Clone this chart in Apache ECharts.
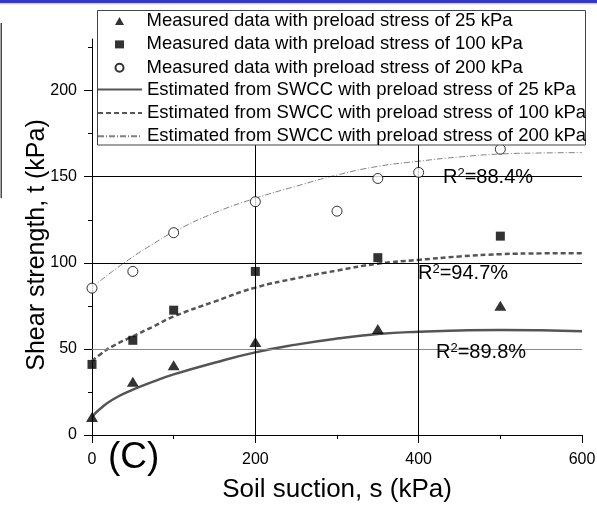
<!DOCTYPE html>
<html>
<head>
<meta charset="utf-8">
<script src="https://cdn.jsdelivr.net/npm/echarts@6/dist/echarts.min.js"></script>
<style>
  html, body { margin: 0; padding: 0; background: #fff; }
  #chart { width: 597px; height: 505px; }
</style>
</head>
<body>
<div id="chart"></div>
<script>
// Measured shear strength (kPa) against soil suction (kPa)
const suction25 = [0, 50, 100, 200, 350, 500];
const tau25 = [10.5, 31, 40.5, 54, 61.5, 75];
const suction100 = [0, 50, 100, 200, 350, 500];
const tau100 = [41, 55, 72.5, 95, 103, 115.5];
const suction200 = [0, 50, 100, 200, 300, 350, 400, 500];
const tau200 = [85.3, 95, 117.5, 135.5, 130, 149, 152.5, 166];

// Curves estimated from the SWCC
const suctionFit = [0, 10, 25, 50, 75, 100, 150, 200, 250, 300, 350, 400, 450, 500, 550, 600];
const fit25 = [10.5, 15.2, 20.5, 26.3, 31, 35.2, 42, 48, 52.5, 56, 58.6, 60, 60.7, 61, 60.8, 60.3];
const fit100 = [43, 46.8, 51.5, 57.3, 63, 68.8, 77.5, 85.6, 91, 95.5, 99.5, 101.7, 103.7, 105, 105.5, 105.6];
const fit200 = [85.3, 89.5, 95, 103.5, 111, 118, 129, 137.5, 144.5, 151, 156, 159, 161.5, 163.2, 163.8, 164];

// Axis ticks and reference lines
const xTicks = [0, 200, 400, 600];
const yTicks = [0, 50, 100, 150, 200];
const yMinorTicks = [25, 75, 125, 175, 225];
const gridY = [50, 100, 150];
const gridX = [200, 400];

const measuredNames = [
  'Measured data with preload stress of 25 kPa',
  'Measured data with preload stress of 100 kPa',
  'Measured data with preload stress of 200 kPa'
];
const estimatedNames = [
  'Estimated from SWCC with preload stress of 25 kPa',
  'Estimated from SWCC with preload stress of 100 kPa',
  'Estimated from SWCC with preload stress of 200 kPa'
];
const fitLabels = ['R{s|2}=88.4%', 'R{s|2}=94.7%', 'R{s|2}=89.8%'];
const panelLabel = '(C)';

const FONT = "'Liberation Sans', Arial, sans-serif";
const zip = (xs, ys) => xs.map((x, i) => [x, ys[i]]);

const chart = echarts.init(document.getElementById('chart'), null, { renderer: 'canvas' });

const rText = (text, x, y) => ({
  type: 'text', left: x, top: y, z: 20,
  style: {
    text: text, fill: '#000', font: '20px ' + FONT,
    rich: { s: { fontSize: 13, fontFamily: FONT, verticalAlign: 'top', lineHeight: 20, fill: '#000' } }
  }
});

const legendText = { fontSize: 18.5, lineHeight: 18.5, color: '#000', fontFamily: FONT };

chart.setOption({
  animation: false,
  backgroundColor: '#fff',
  grid: { left: 92, right: 15, top: 39, bottom: 70, outerBoundsMode: 'none', containLabel: false },
  xAxis: {
    type: 'value', min: 0, max: 600, interval: 200,
    name: 'Soil suction, s (kPa)', nameLocation: 'middle', nameGap: 42,
    nameTextStyle: { fontSize: 26, color: '#000', fontFamily: FONT },
    axisLine: { show: true, onZero: false, lineStyle: { color: '#000', width: 1 } },
    axisTick: { show: true, length: 8, lineStyle: { color: '#000' } },
    minorTick: { show: true, splitNumber: 2, length: 4, lineStyle: { color: '#000' } },
    axisLabel: { customValues: xTicks, margin: 17, fontSize: 16, color: '#000', fontFamily: FONT },
    splitLine: { show: false }
  },
  yAxis: [{
    type: 'value', min: 0, max: 230,
    name: 'Shear strength, t (kPa)', nameLocation: 'middle', nameGap: 42, nameMoveOverlap: false,
    nameTextStyle: { fontSize: 25, color: '#000', fontFamily: FONT, padding: [0, 16, 0, 0] },
    axisLine: { show: true, onZero: false, lineStyle: { color: '#000', width: 1 } },
    axisTick: { show: true, customValues: yTicks, length: 8, lineStyle: { color: '#000' } },
    axisLabel: { customValues: yTicks, margin: 15, fontSize: 16, color: '#000', fontFamily: FONT },
    splitLine: { show: false }
  }, {
    type: 'value', min: 0, max: 230, position: 'left',
    axisLine: { show: false },
    axisTick: { show: true, customValues: yMinorTicks, length: 4, lineStyle: { color: '#000' } },
    axisLabel: { show: false },
    splitLine: { show: false }
  }],
  legend: [{
    // marker entries
    orient: 'vertical', left: 114.5, top: 11.5, z: 10,
    data: measuredNames,
    itemWidth: 9, itemHeight: 8, itemGap: 4.4,
    padding: 0,
    textStyle: Object.assign({ padding: [0, 0, 0, 17.5] }, legendText),
    selectedMode: false
  }, {
    // curve entries
    orient: 'vertical', left: 97, top: 80, z: 10,
    data: estimatedNames,
    itemWidth: 44, itemHeight: 9, itemGap: 4.4,
    padding: 0,
    textStyle: legendText,
    selectedMode: false
  }],
  graphic: [
    { type: 'rect', shape: { x: 0, y: 0, width: 597, height: 3 }, style: { fill: '#3636c8' }, z: 30 },
    { type: 'rect', shape: { x: 0, y: 3, width: 597, height: 1.5 }, style: { fill: '#d6d6d6' }, z: 30 },
    { type: 'rect', shape: { x: 0.5, y: 23, width: 1.5, height: 175 }, style: { fill: '#4a4a4a' }, z: 30 },
    // legend frame
    { type: 'rect', z: 8, shape: { x: 97.5, y: 10.5, width: 488, height: 134.5 },
      style: { fill: '#fff', stroke: '#444', lineWidth: 1 } },
    rText(fitLabels[0], 443, 167),
    rText(fitLabels[1], 418, 263),
    rText(fitLabels[2], 436, 342),
    { type: 'text', left: 108, top: 439, z: 20,
      style: { text: panelLabel, fill: '#000', font: '37px ' + FONT } }
  ],
  series: [
    {
      name: measuredNames[0], type: 'scatter', z: 5,
      symbol: 'triangle', symbolSize: [12, 10],
      itemStyle: { color: '#000' },
      data: zip(suction25, tau25)
    },
    {
      name: measuredNames[1], type: 'scatter', z: 5,
      symbol: 'rect', symbolSize: 9,
      itemStyle: { color: '#000' },
      data: zip(suction100, tau100)
    },
    {
      name: measuredNames[2], type: 'scatter', z: 5,
      symbol: 'circle', symbolSize: 10,
      itemStyle: { color: '#fff', borderColor: '#000', borderWidth: 1 },
      data: zip(suction200, tau200)
    },
    {
      name: estimatedNames[0], type: 'line', z: 3, smooth: true, symbol: 'none',
      lineStyle: { color: '#555', width: 2.5, type: 'solid' },
      itemStyle: { color: 'rgba(0,0,0,0)' },
      data: zip(suctionFit, fit25)
    },
    {
      name: estimatedNames[1], type: 'line', z: 3, smooth: true, symbol: 'none',
      lineStyle: { color: '#555', width: 2.5, type: [5, 3] },
      itemStyle: { color: 'rgba(0,0,0,0)' },
      data: zip(suctionFit, fit100)
    },
    {
      name: estimatedNames[2], type: 'line', z: 3, smooth: true, symbol: 'none',
      lineStyle: { color: '#808080', width: 1, type: [6, 2, 1, 2] },
      itemStyle: { color: 'rgba(0,0,0,0)' },
      data: zip(suctionFit, fit200)
    },
    {
      // reference grid lines
      type: 'line', z: 1, data: [], silent: true,
      markLine: {
        silent: true, symbol: 'none', label: { show: false },
        lineStyle: { color: '#000', width: 1, type: 'solid' },
        data: gridY.map((v, i) => ({ yAxis: v, lineStyle: { color: i === 0 ? '#8a8a8a' : '#000', type: 'solid' } }))
          .concat(gridX.map(v => ({ xAxis: v, lineStyle: { color: '#000', type: 'solid' } })))
      }
    }
  ]
});
</script>
</body>
</html>
